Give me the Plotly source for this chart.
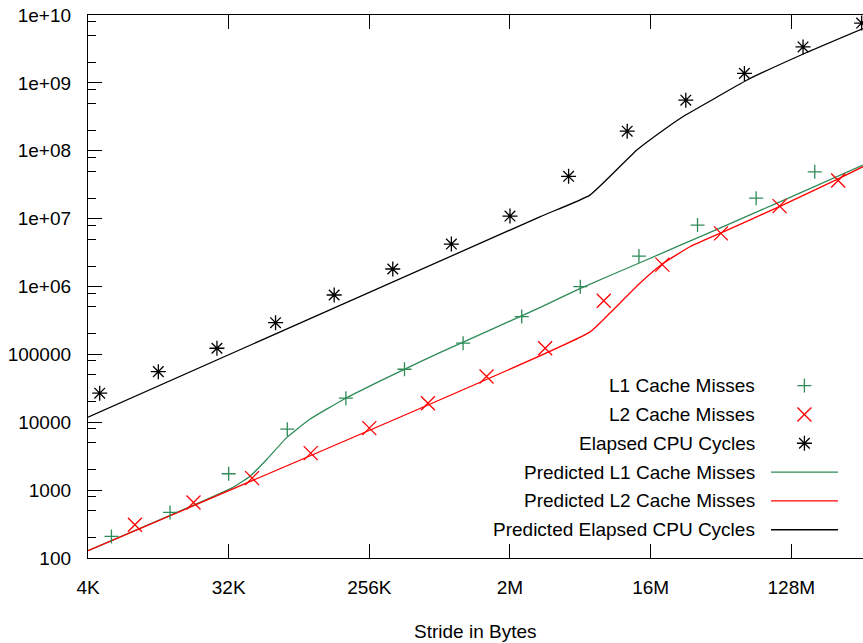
import numpy as np
import plotly.graph_objects as go

# ---- measured data (stride given as log2 of bytes) ----
l1_stride_log2 = [12.5, 13.75, 15.0, 16.25, 17.5, 18.75, 20.0, 21.25, 22.5, 23.75, 25.0, 26.25, 27.5]
l1_misses = [208, 469, 1742, 7910, 22600, 60400, 146000, 360000, 994000, 2810000, 8040000, 20000000, 49000000]

l2_stride_log2 = [13.0, 14.25, 15.5, 16.75, 18.0, 19.25, 20.5, 21.75, 23.0, 24.25, 25.5, 26.75, 28.0]
l2_misses = [309, 658, 1504, 3508, 8190, 19100, 47100, 123000, 618000, 2100000, 6070000, 15300000, 36500000]

cyc_stride_log2 = [12.25, 13.5, 14.75, 16.0, 17.25, 18.5, 19.75, 21.0, 22.25, 23.5, 24.75, 26.0, 27.25, 28.5]
cpu_cycles = [26800, 55700, 123000, 293000, 750000, 1810000, 4220000, 10900000, 42000000,
              194000000, 556000000, 1380000000, 3380000000, 7600000000]

# ---- model predictions ----
pred_l1_log2 = [12.0, 15.06, 15.45, 15.806, 16.233, 16.73, 17.477, 18.224, 18.757, 19.504,
                21.637, 22.49, 23.77, 25.477, 26.757, 28.529]
pred_l1 = [128, 1072, 1589, 2800, 5888, 11040, 22230, 40360, 60810, 105900,
           489800, 933000, 2239000, 7244000, 17700000, 61400000]

pred_l2_log2 = [12.0, 22.70, 23.127, 23.77, 24.268, 24.84, 25.477, 26.757, 27.967, 28.529]
pred_l2 = [128, 212800, 403600, 1114000, 2193000, 3855000, 6067000, 15140000, 37580000, 58210000]

pred_cyc_log2 = [12.0, 21.637, 22.704, 23.70, 24.268, 24.695, 25.335, 26.047, 27.328, 28.529]
pred_cyc = [11900, 10640000, 22200000, 102000000, 201000000, 320000000, 575000000,
            1094000000, 2800000000, 6310000000]

# ---- axis ticks ----
x_tick_log2 = [12, 15, 18, 21, 24, 27]
x_tick_text = ["4K", "32K", "256K", "2M", "16M", "128M"]
y_tick_vals = [1e2, 1e3, 1e4, 1e5, 1e6, 1e7, 1e8, 1e9, 1e10]
y_tick_text = ["100", "1000", "10000", "100000", "1e+06", "1e+07", "1e+08", "1e+09", "1e+10"]
y_minor_vals = [m * 10 ** e for e in range(2, 10) for m in (2, 5, 8)]

GREEN = "#2e8b57"
RED = "#ff0000"
BLACK = "#000000"
FONT = "Liberation Sans, Arial, Helvetica, sans-serif"
FSIZE = 19


def b(log2_list):
    return [2.0 ** v for v in log2_list]


fig = go.Figure()

# predicted curves
curve_line = dict(width=1.3, shape="spline", smoothing=0.4)
fig.add_trace(go.Scatter(x=b(pred_l1_log2), y=pred_l1, mode="lines",
                         line=dict(color=GREEN, **curve_line), name="Predicted L1 Cache Misses"))
fig.add_trace(go.Scatter(x=b(pred_l2_log2), y=pred_l2, mode="lines",
                         line=dict(color=RED, **curve_line), name="Predicted L2 Cache Misses"))
fig.add_trace(go.Scatter(x=b(pred_cyc_log2), y=pred_cyc, mode="lines",
                         line=dict(color=BLACK, **curve_line), name="Predicted Elapsed CPU Cycles"))

# measured points
fig.add_trace(go.Scatter(x=b(l1_stride_log2), y=l1_misses, mode="markers", name="L1 Cache Misses",
                         marker=dict(symbol="cross-thin-open", size=10, color=GREEN,
                                     line=dict(color=GREEN, width=1.3))))
fig.add_trace(go.Scatter(x=b(l2_stride_log2), y=l2_misses, mode="markers", name="L2 Cache Misses",
                         marker=dict(symbol="x-thin-open", size=14, color=RED,
                                     line=dict(color=RED, width=1.3))))
fig.add_trace(go.Scatter(x=b(cyc_stride_log2), y=cpu_cycles, mode="markers", name="Elapsed CPU Cycles",
                         marker=dict(symbol="asterisk-open", size=12.5, color=BLACK,
                                     line=dict(color=BLACK, width=1.3))))

# ---- key drawn inside the plot: text on the left, sample on the right ----
key_rows = [
    ("L1 Cache Misses", "marker", "cross-thin-open", 10, GREEN),
    ("L2 Cache Misses", "marker", "x-thin-open", 14, RED),
    ("Elapsed CPU Cycles", "marker", "asterisk-open", 12.5, BLACK),
    ("Predicted L1 Cache Misses", "line", None, None, GREEN),
    ("Predicted L2 Cache Misses", "line", None, None, RED),
    ("Predicted Elapsed CPU Cycles", "line", None, None, BLACK),
]
row_top, row_step = 0.3175, 0.0531
text_right, sym_x, line_x0, line_x1 = 0.8632, 0.9244, 0.8813, 0.9677
annotations = []
for i, (label, kind, sym, size, col) in enumerate(key_rows):
    yy = row_top - i * row_step
    annotations.append(dict(text=label, xref="paper", yref="paper", x=text_right, y=yy,
                            xanchor="right", yanchor="middle", showarrow=False,
                            font=dict(family=FONT, size=FSIZE, color="black")))
    if kind == "marker":
        fig.add_trace(go.Scatter(x=[sym_x], y=[yy], xaxis="x3", yaxis="y3", mode="markers",
                                 showlegend=False, hoverinfo="skip",
                                 marker=dict(symbol=sym, size=size, color=col,
                                             line=dict(color=col, width=1.3))))
    else:
        fig.add_trace(go.Scatter(x=[line_x0, line_x1], y=[yy, yy], xaxis="x3", yaxis="y3",
                                 mode="lines", showlegend=False, hoverinfo="skip",
                                 line=dict(color=col, width=1.3)))

annotations.append(dict(text="Stride in Bytes", xref="paper", yref="paper", x=0.5, y=-0.1356,
                        xanchor="center", yanchor="middle", showarrow=False,
                        font=dict(family=FONT, size=FSIZE, color="black")))

x_lo, x_hi = 12.0, 28.529
common_tick = dict(ticks="inside", ticklen=14, tickwidth=1.3, tickcolor="black",
                   showgrid=False, zeroline=False)

fig.update_layout(
    width=863, height=643,
    margin=dict(l=88, r=0, t=15, b=85),
    paper_bgcolor="white", plot_bgcolor="white",
    showlegend=False,
    font=dict(family=FONT, size=FSIZE, color="black"),
    annotations=annotations,
    xaxis=dict(type="log", range=[x_lo * np.log10(2), x_hi * np.log10(2)],
               tickvals=b(x_tick_log2), ticktext=x_tick_text,
               showline=True, linecolor="black", linewidth=1.3, mirror="ticks",
               ticklabelstandoff=12, **common_tick),
    yaxis=dict(type="log", range=[2, 10], tickvals=y_tick_vals, ticktext=y_tick_text,
               showline=True, linecolor="black", linewidth=1.3, mirror=False,
               ticklabelstandoff=12,
               minor=dict(tickvals=y_minor_vals, ticks="inside", ticklen=7.7,
                          tickwidth=1.3, tickcolor="black"),
               **common_tick),
    yaxis2=dict(type="log", range=[2, 10], overlaying="y", side="right", anchor="x",
                tickvals=y_tick_vals, showticklabels=False, showline=False,
                minor=dict(tickvals=y_minor_vals, ticks="inside", ticklen=7.7,
                           tickwidth=1.3, tickcolor="black"),
                **common_tick),
    xaxis3=dict(overlaying="x", range=[0, 1], visible=False, anchor="y3"),
    yaxis3=dict(overlaying="y", range=[0, 1], visible=False, anchor="x3"),
)

fig.write_html("out.html")
